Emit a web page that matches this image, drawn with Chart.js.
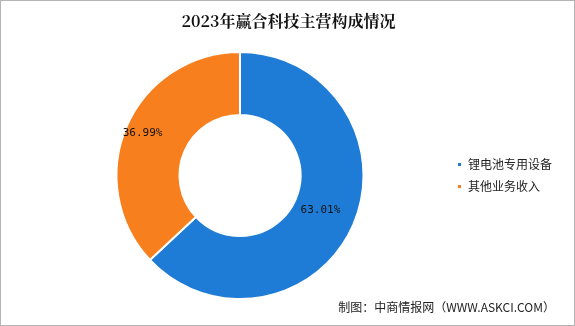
<!DOCTYPE html>
<html>
<head>
<meta charset="utf-8">
<script src="https://cdn.jsdelivr.net/npm/chart.js@4/dist/chart.umd.min.js"></script>
<style>
  html, body { margin: 0; padding: 0; background: #fff; }
  #wrap { position: relative; width: 573px; height: 324px; border: 1px solid #b4b4b4; }
  #title { position: absolute; left: 0; top: 8px; width: 575px; text-align: center;
    font: bold 16px "Noto Serif CJK SC", "Noto Sans CJK SC", serif; color: #111; }
  #source { position: absolute; right: 19px; top: 297px;
    font: 12px "Noto Sans CJK SC", sans-serif; color: #222; }
</style>
</head>
<body>
<div id="wrap">
  <canvas id="pie" width="573" height="324"></canvas>
  <div id="title">2023年赢合科技主营构成情况</div>
  <div id="source">制图：中商情报网（WWW.ASKCI.COM）</div>
</div>
<script>
const categories = ['锂电池专用设备', '其他业务收入'];
const shares = [63.01, 36.99];
const colors = ['#1E7CD6', '#F77F1E'];

// label distance from centre, as a fraction of the ring radius
const labelRadius = [0.71, 0.86];

const sliceLabels = {
    id: 'sliceLabels',
    afterDatasetsDraw(chart) {
        const ctx = chart.ctx;
        const meta = chart.getDatasetMeta(0);
        ctx.save();
        ctx.font = '11px "DejaVu Sans Mono", monospace';
        ctx.fillStyle = '#111';
        ctx.textAlign = 'center';
        ctx.textBaseline = 'middle';
        meta.data.forEach((arc, i) => {
            const mid = (arc.startAngle + arc.endAngle) / 2;
            const r = arc.outerRadius * labelRadius[i];
            ctx.fillText(shares[i].toFixed(2) + '%', arc.x + Math.cos(mid) * r, arc.y + Math.sin(mid) * r);
        });
        ctx.restore();
    }
};

new Chart('pie', {
    type: 'doughnut',
    data: {
        labels: categories,
        datasets: [{
            data: shares,
            backgroundColor: colors,
            borderColor: '#fff',
            borderWidth: 2
        }]
    },
    options: {
        responsive: false,
        animation: false,
        cutout: '49%',
        layout: { padding: { top: 50, bottom: 25, left: 32, right: 12 } },
        plugins: {
            legend: {
                position: 'right',
                align: 'center',
                labels: {
                    boxWidth: 5,
                    boxHeight: 5,
                    padding: 10,
                    color: '#222',
                    font: { size: 12, family: '"Noto Sans CJK SC", sans-serif' }
                }
            },
            tooltip: { enabled: false }
        }
    },
    plugins: [sliceLabels]
});
</script>
</body>
</html>
